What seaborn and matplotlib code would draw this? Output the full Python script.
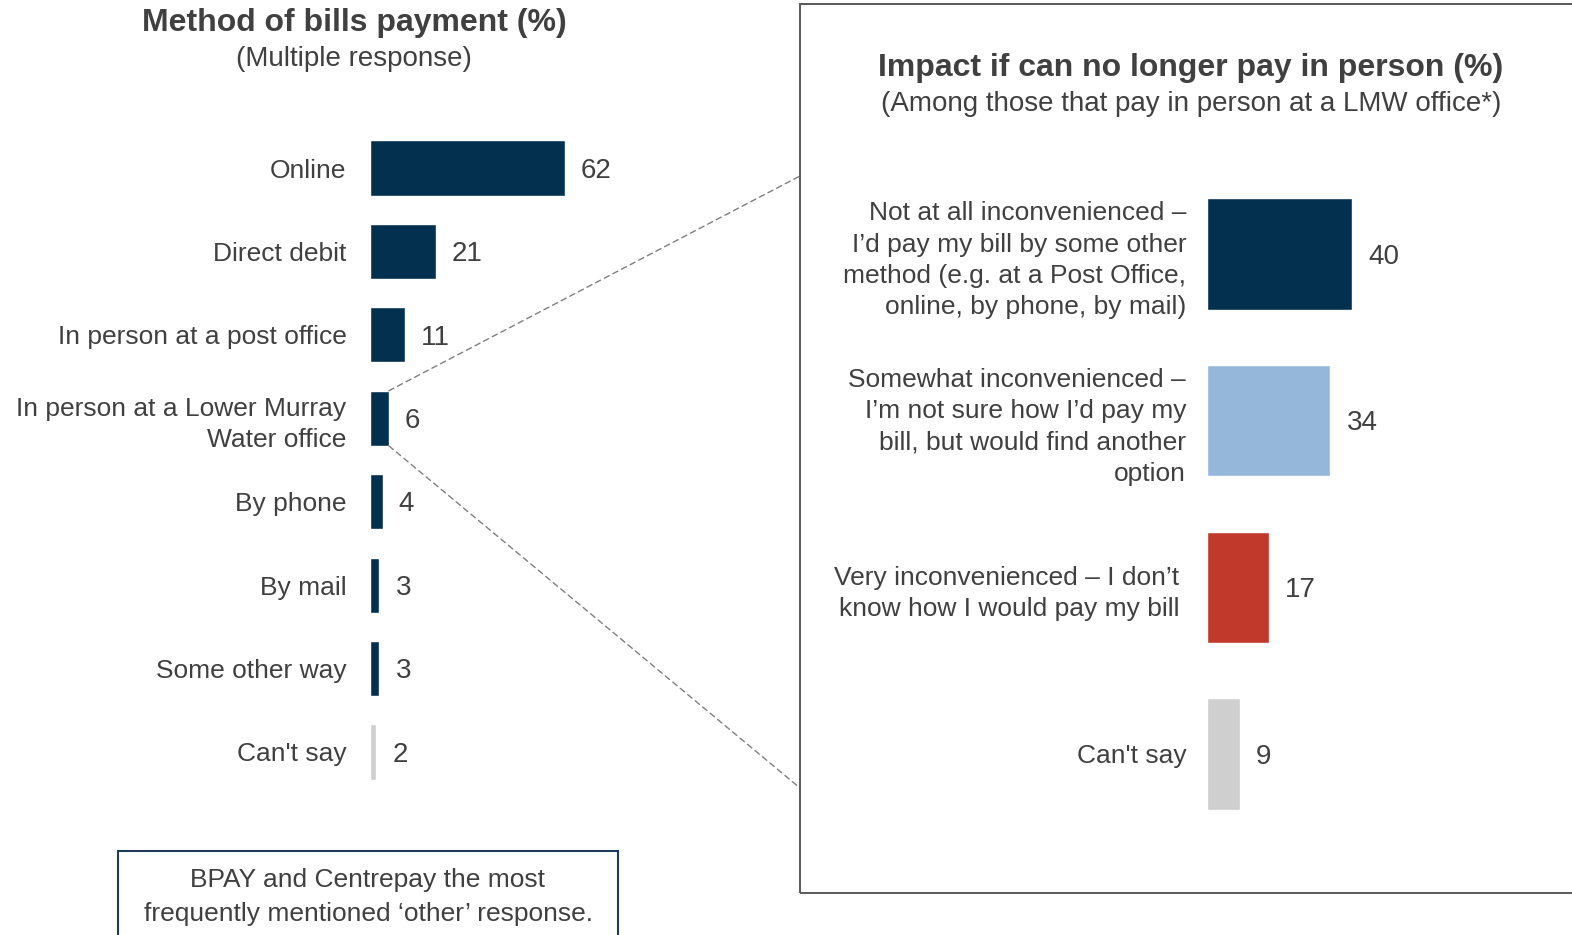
import matplotlib
matplotlib.use("Agg")
import matplotlib.pyplot as plt
import seaborn as sns
import pandas as pd
from matplotlib.patches import Rectangle, ConnectionPatch
from matplotlib.transforms import ScaledTranslation

# Survey results
methods = [
    "Online",
    "Direct debit",
    "In person at a post office",
    "In person at a Lower Murray\nWater office",
    "By phone",
    "By mail",
    "Some other way",
    "Can't say",
]
method_pct = [62, 21, 11, 6, 4, 3, 3, 2]

impacts = [
    "Not at all inconvenienced \u2013\nI\u2019d pay my bill by some other\nmethod (e.g. at a Post Office,\nonline, by phone, by mail)",
    "Somewhat inconvenienced \u2013\nI\u2019m not sure how I\u2019d pay my\nbill, but would find another\noption",
    "Very inconvenienced \u2013 I don\u2019t\nknow how I would pay my bill",
    "Can't say",
]
impact_pct = [40, 34, 17, 9]

NAVY = "#03304F"
LIGHT_BLUE = "#95B8DA"
RED = "#C0392B"
GREY = "#D0CFCF"
TEXT = "#404040"

method_colors = [NAVY] * 7 + [GREY]
impact_colors = [NAVY, LIGHT_BLUE, RED, GREY]

sns.set_theme(style="white")
plt.rcParams["font.family"] = ["Liberation Sans", "DejaVu Sans"]
plt.rcParams["text.color"] = TEXT

W, H = 1572, 935
fig = plt.figure(figsize=(W / 100, H / 100), dpi=100)


def fx(px):
    return px / W


def fy(py):
    return 1 - py / H


LABEL_FS = 19
VALUE_FS = 20
SUB_FS = 20
TITLE_FS = 23
LS = 1.38


def value_labels(ax, values):
    for i, v in enumerate(values):
        ax.annotate(f"{v}", xy=(v, i), xytext=(11.5, -2), textcoords="offset points",
                    ha="left", va="center", fontsize=VALUE_FS, color=TEXT)


# ---- Left panel: method of payment ----
ax1 = fig.add_axes([fx(370), fy(793.7), fx(330), (793.7 - 126.3) / H])
df1 = pd.DataFrame({"method": methods, "pct": method_pct})
sns.barplot(data=df1, y="method", x="pct", hue="method", palette=method_colors,
            orient="h", width=0.66, legend=False, ax=ax1, saturation=1)
ax1.set_xlim(0, 330 / 3.14)
ax1.set_ylim(7.5, -0.5)
value_labels(ax1, method_pct)
ax1.set_xlabel("")
ax1.set_ylabel("")
ax1.set_xticks([])
ax1.tick_params(axis="y", length=0, pad=17, labelsize=LABEL_FS, labelcolor=TEXT)
for t in ax1.get_yticklabels():
    t.set_linespacing(LS)
sns.despine(ax=ax1, left=True, bottom=True)

fig.text(fx(354), fy(23), "Method of bills payment (%)", ha="center", va="center",
         fontsize=TITLE_FS, fontweight="bold", color=TEXT)
fig.text(fx(354), fy(59), "(Multiple response)", ha="center", va="center",
         fontsize=SUB_FS, color=TEXT)

# ---- Right panel: impact ----
ax2 = fig.add_axes([fx(1207), fy(837.3), fx(353), 666.6 / H])
df2 = pd.DataFrame({"impact": impacts, "pct": impact_pct})
sns.barplot(data=df2, y="impact", x="pct", hue="impact", palette=impact_colors,
            orient="h", width=0.667, legend=False, ax=ax2, saturation=1)
ax2.set_xlim(0, 353 / 3.63)
ax2.set_ylim(3.5, -0.5)
value_labels(ax2, impact_pct)
ax2.set_xlabel("")
ax2.set_ylabel("")
ax2.set_xticks([])
ax2.tick_params(axis="y", length=0, pad=15, labelsize=LABEL_FS, labelcolor=TEXT)
for t in ax2.get_yticklabels():
    t.set_linespacing(LS)
# the two-line "Very inconvenienced" label sits a little further left
very = ax2.get_yticklabels()[2]
very.set_transform(very.get_transform() + ScaledTranslation(-0.07, 0, fig.dpi_scale_trans))
sns.despine(ax=ax2, left=True, bottom=True)

fig.text(fx(1191), fy(68), "Impact if can no longer pay in person (%)", ha="center",
         va="center", fontsize=TITLE_FS, fontweight="bold", color=TEXT)
fig.text(fx(1191), fy(104), "(Among those that pay in person at a LMW office*)",
         ha="center", va="center", fontsize=SUB_FS, color=TEXT)

# Frame around the right panel (open on the right edge)
fig.patches.append(Rectangle((fx(800), fy(893)), fx(800), (893 - 4) / H,
                             transform=fig.transFigure, fill=False,
                             edgecolor="#595959", linewidth=1.4))

# Dashed connectors from the LMW office bar to the right panel
lmw = 3
half = 0.33
for yb, ypx in [(lmw - half, 176), (lmw + half, 788)]:
    con = ConnectionPatch(xyA=(method_pct[lmw], yb), coordsA=ax1.transData,
                          xyB=(fx(800), fy(ypx)), coordsB=fig.transFigure,
                          linestyle=(0, (4, 3)), color="#7F7F7F", linewidth=1.0)
    fig.add_artist(con)

# Note box under the left panel
fig.patches.append(Rectangle((fx(118), fy(960)), fx(500), (960 - 851) / H,
                             transform=fig.transFigure, fill=False,
                             edgecolor="#1F3A5F", linewidth=1.5))
fig.text(fx(368), fy(897), "BPAY and Centrepay the most\nfrequently mentioned \u2018other\u2019 response.",
         ha="center", va="center", fontsize=LABEL_FS, color=TEXT, linespacing=1.56)

fig.savefig("out.png", dpi=100)
